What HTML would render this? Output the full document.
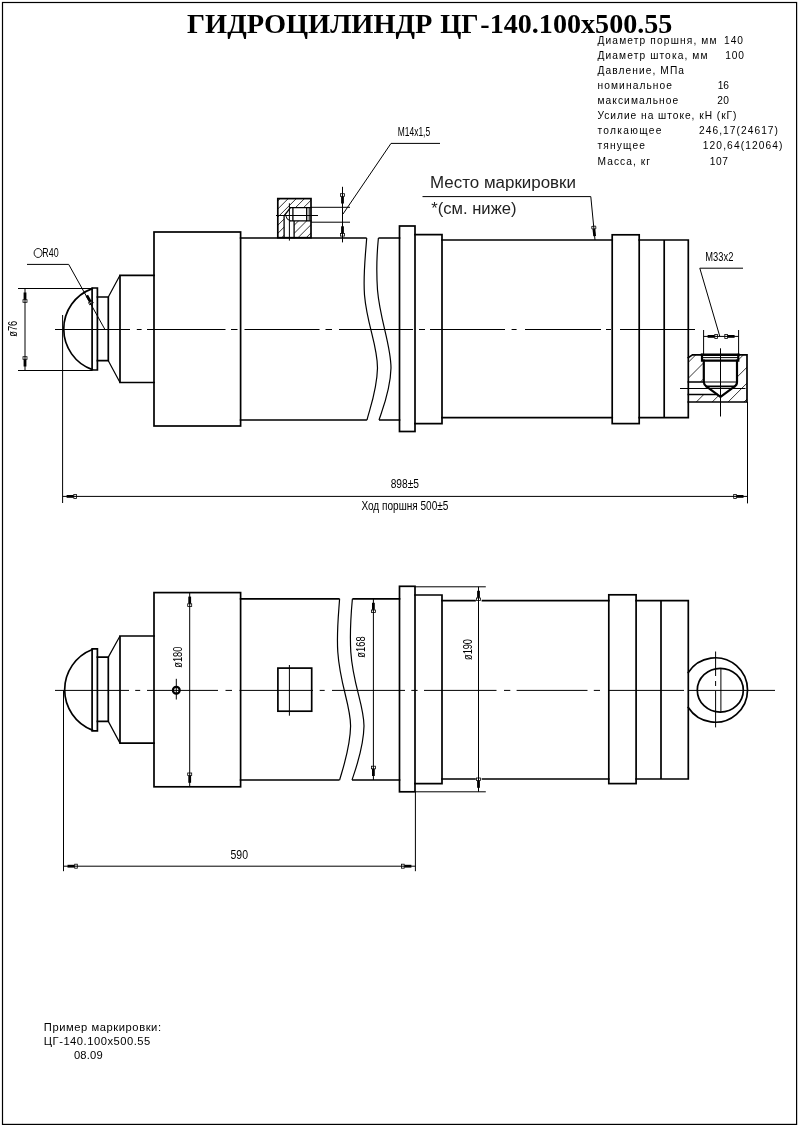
<!DOCTYPE html>
<html lang="ru">
<head>
<meta charset="utf-8">
<title>Гидроцилиндр ЦГ-140.100х500.55</title>
<style>
html,body{margin:0;padding:0;background:#fff;}
body{width:798px;height:1127px;overflow:hidden;}
svg{display:block;will-change:transform;}
.k{stroke:#000;stroke-width:1.7;fill:none;stroke-linecap:square;stroke-linejoin:miter;}
.n{stroke:#000;stroke-width:1;fill:none;}
.c{stroke:#000;stroke-width:1;fill:none;}
.h{stroke:#000;stroke-width:0.8;fill:none;}
.ar{font-family:"Liberation Sans",sans-serif;fill:#000;}
.gs{font-family:"Liberation Sans",sans-serif;fill:#000;font-size:13px;}
.tt{font-family:"Liberation Serif",serif;font-weight:bold;fill:#000;font-size:28px;}
</style>
</head>
<body>
<svg width="798" height="1127" viewBox="0 0 798 1127">
<defs>
  <g id="aw">
    <rect x="4" y="-1.4" width="7" height="2.8" fill="#000"/>
    <rect x="11.2" y="-2" width="2.6" height="4" fill="none" stroke="#000" stroke-width="0.8"/>
  </g>
  <pattern id="hat" width="5.8" height="5.8" patternUnits="userSpaceOnUse" patternTransform="rotate(-45)">
    <line x1="0" y1="2.9" x2="5.8" y2="2.9" stroke="#000" stroke-width="0.8"/>
  </pattern>
  <pattern id="hat2" width="11" height="11" patternUnits="userSpaceOnUse" patternTransform="rotate(-45)">
    <line x1="0" y1="5.5" x2="11" y2="5.5" stroke="#000" stroke-width="0.7"/>
  </pattern>
</defs>
<rect x="0" y="0" width="798" height="1127" fill="#fff"/>
<!-- frame -->
<rect x="2.5" y="2.5" width="794.1" height="1121.9" fill="none" stroke="#000" stroke-width="1.2"/>

<!-- title -->
<text class="tt" y="32.7"><tspan x="187" textLength="245.4" lengthAdjust="spacingAndGlyphs">ГИДРОЦИЛИНДР</tspan> <tspan x="440.2" textLength="38.4" lengthAdjust="spacingAndGlyphs">ЦГ</tspan><tspan x="480.3" textLength="192.1" lengthAdjust="spacingAndGlyphs">-140.100х500.55</tspan></text>

<!-- ============ TOP VIEW ============ -->
<g id="topview">
<!-- hatch fills -->
<clipPath id="cp1"><path d="M277.8,198.6 H311 V207.7 H290.5 L284.1,215.8 V237.7 H277.8 Z M294.1,220.8 H311 V237.7 H294.1 Z"/></clipPath>
<path class="h" clip-path="url(#cp1)" d="M276.0,194.5 L313.0,157.5 M276.0,202.7 L313.0,165.7 M276.0,210.8 L313.0,173.8 M276.0,218.9 L313.0,181.9 M276.0,227.1 L313.0,190.1 M276.0,235.2 L313.0,198.2 M276.0,243.4 L313.0,206.4 M276.0,251.5 L313.0,214.5 M276.0,259.7 L313.0,222.7 M276.0,267.9 L313.0,230.9 M276.0,276.0 L313.0,239.0"/>
<clipPath id="cp2"><path d="M688.3,357.6 L692.5,354.8 H702 V360.7 H703.8 V382 H688.3 Z M738.3,354.8 H747 V402 H688.3 V394.6 H717 L720.5,397 L734.7,386.4 L737,382 V360.7 H738.3 Z"/></clipPath>
<path class="h" clip-path="url(#cp2)" d="M686.0,348.7 L749.0,285.7 M686.0,364.6 L749.0,301.6 M686.0,380.5 L749.0,317.5 M686.0,396.4 L749.0,333.4 M686.0,412.3 L749.0,349.3 M686.0,428.2 L749.0,365.2 M686.0,444.1 L749.0,381.1 M686.0,460.0 L749.0,397.0"/>
<!-- thick outline -->
<path class="k" d="M92.3,288.6 A43,43 0 0 0 92.3,369.6"/>
<path class="k" d="M92.1,288 H97.4 V370 H92.1 Z"/>
<path class="k" d="M97.4,297 H108.3 M97.4,360.7 H108.3 M108.3,297 V360.7"/>
<path style="stroke-width:1.2" class="n" d="M108.3,297 L120,275.3 M108.3,360.7 L120,382.5"/>
<path class="k" d="M154,275.3 H120 V382.5 H154"/>
<rect class="k" x="154" y="232" width="86.6" height="194"/>
<path class="k" d="M240.6,238 H365.8 M240.6,420 H366.1"/>
<path class="k" d="M379.3,238 H399.5 M379.9,420 H399.5"/>
<rect class="k" x="399.5" y="226" width="15.5" height="205.5"/>
<path class="k" d="M415,234.6 H442 V423.6 H415"/>
<path class="k" d="M442,240 H612.2 M442,417.7 H612.2"/>
<rect class="k" x="612.2" y="234.8" width="27" height="188.8"/>
<path class="k" d="M639.2,240 H688.3 V417.7 H639.2 M664.2,240 V417.7"/>
<path class="k" d="M688.3,357.6 L692.5,354.8 H747 V402 H688.3"/>
<!-- port M33 hole -->
<path style="stroke-width:2.6" class="k" d="M702,354.8 H738.3"/>
<path style="stroke-width:2.2" class="k" d="M702,354.8 V360.7 H738.3 V354.8"/>
<path style="stroke-width:2.2" class="k" d="M703.8,360.7 V382 Q704,385 706.3,386.4 L720.5,397 L734.7,386.4 Q737,385 737,382 V360.7"/>
<path style="stroke-width:1.8" class="k" d="M706.3,386.4 H734.7"/>
<path class="n" d="M703.8,382 H737 M703,357.6 H738"/>
<path style="stroke-width:1.5" class="k" d="M688.3,382 H703.8 M688.3,394.6 H717"/>
<!-- port boss M14 -->
<rect class="k" x="277.8" y="198.6" width="33.2" height="39.1"/>
<path style="stroke-width:1.3" class="k" d="M311,207.7 H290.5 L284.1,215.8 V237.7 M311,220.8 H290.5 M294.1,220.8 V237.7 M292.9,207.7 V220.8 M306.7,207.7 V220.8"/>
<path class="n" d="M309.2,207.7 V220.8 M285.8,215.8 Q286.5,220 290.5,220.8"/>
<!-- break lines -->
<path style="stroke-width:1.2" class="n" d="M366.7,238 C365.5,255 363,275 364.5,295 C367,325 377.5,345 377.5,368 C377,390 370,408 367,420"/>
<path style="stroke-width:1.2" class="n" d="M378.4,238 C377.2,250 376,268 377.5,290 C380,320 391,345 391,368 C390.5,390 383,408 379,420"/>
<!-- centre lines -->
<path class="c" d="M55.0,329.5 H130.0 M136.8,329.5 H141.6 M147.0,329.5 H225.5 M231.0,329.5 H237.5 M244.5,329.5 H319.5 M325.5,329.5 H332.0 M339.0,329.5 H413.0 M419.0,329.5 H425.0 M430.0,329.5 H505.0 M511.6,329.5 H516.6 M525.0,329.5 H601.0 M606.0,329.5 H611.0 M620.0,329.5 H695.0"/>
<path class="c" d="M289.4,203.3 V240.6 M276,215.5 H318"/>
<path class="c" d="M720.5,348.3 V416.5 M680,388.5 H745.5"/>
<!-- dim d76 -->
<path class="n" d="M18,288.5 H92 M18,370.5 H92 M25,288.5 V370.5"/>
<use href="#aw" transform="translate(25,288.5) rotate(90)"/>
<use href="#aw" transform="translate(25,370.5) rotate(-90)"/>
<!-- R40 leader -->
<path class="n" d="M27,264.4 H68.7 L104.9,329.4"/>
<use href="#aw" transform="translate(84.9,291.8) rotate(61.3)"/>
<!-- M14 dim -->
<path class="n" d="M311,207.3 H350 M311,222.2 H350 M342.5,186.8 V242.4"/>
<use href="#aw" transform="translate(342.5,207.5) rotate(-90)"/>
<use href="#aw" transform="translate(342.5,222.3) rotate(90)"/>
<path class="n" d="M343,214 L391,143.4 H440"/>
<!-- marking leader -->
<path class="n" d="M422.5,196.6 H590.8 L595,240"/>
<use href="#aw" transform="translate(595,240) rotate(-95.5)"/>
<!-- M33 dim -->
<path class="n" d="M703.6,330 V354.8 M738.6,330 V354.8 M703.6,336.4 H738.6"/>
<use href="#aw" transform="translate(703.6,336.4)"/>
<use href="#aw" transform="translate(738.6,336.4) rotate(180)"/>
<path class="n" d="M743,268.2 H699.8 L719.8,336.4"/>
<!-- 898 dim -->
<path class="n" d="M62.6,315 V503 M747.5,402 V503.4 M62.6,496.4 H747.5"/>
<use href="#aw" transform="translate(62.6,496.4)"/>
<use href="#aw" transform="translate(747.5,496.4) rotate(180)"/>
</g>

<!-- ============ BOTTOM VIEW ============ -->
<g id="bottomview">
<path class="k" d="M92.3,649.6 A43,43 0 0 1 92.3,730.2" transform="translate(0,0)" style="display:none"/>
<path class="k" d="M92.3,649.5 A43.2,43.2 0 0 0 92.3,730.1"/>
<path class="k" d="M92.1,648.8 H97.4 V730.8 H92.1 Z"/>
<path class="k" d="M97.4,657.1 H108.3 M97.4,721.4 H108.3 M108.3,657.1 V721.4"/>
<path style="stroke-width:1.2" class="n" d="M108.3,657.1 L120,636 M108.3,721.4 L120,743.1"/>
<path class="k" d="M154,636 H120 V743.1 H154"/>
<rect class="k" x="154" y="592.6" width="86.6" height="194.2"/>
<path class="k" d="M240.6,598.8 H338.7 M240.6,780 H338.7"/>
<path class="k" d="M353.3,598.8 H399.5 M352.9,780 H399.5"/>
<rect class="k" x="399.5" y="586.3" width="15.5" height="205.5"/>
<path class="k" d="M415,595 H442 V783.6 H415"/>
<path class="k" d="M442,600.7 H475 M482.5,600.7 H608.8 M442,779 H475 M482.5,779 H608.8"/>
<rect class="k" x="608.8" y="594.8" width="27.3" height="188.8"/>
<path class="k" d="M636.1,600.7 H688.3 V779 H636.1 M661,600.7 V779"/>
<!-- eye -->
<path class="k" d="M688.3,672.5 A32.2,32.2 0 1 1 688.3,707.5"/>
<ellipse class="k" cx="720.3" cy="690.2" rx="23" ry="21.9"/>
<path class="n" d="M720.9,668.3 V712"/>
<path class="c" d="M715.6,651.5 V676 M715.6,681 V686 M715.6,691 V727.4"/>
<!-- port square -->
<rect class="k" x="277.9" y="668.1" width="33.8" height="43.1"/>
<path class="c" d="M289.4,665 V715.7"/>
<!-- break lines -->
<path style="stroke-width:1.2" class="n" d="M339.6,598.8 C338.5,615 336.5,632 337.8,652 C340,685 350.6,705 350.6,726 C350.2,748 343,768 339.6,780"/>
<path style="stroke-width:1.2" class="n" d="M352.4,598.8 C351.2,612 349.5,630 350.8,652 C353,685 364,705 364,726 C363.6,748 356,768 352,780"/>
<!-- centre line -->
<path class="c" d="M55.0,690.4 H129.0 M135.2,690.4 H140.2 M147.0,690.4 H218.0 M225.5,690.4 H232.0 M239.5,690.4 H313.0 M319.7,690.4 H324.7 M332.0,690.4 H405.0 M411.3,690.4 H417.6 M424.0,690.4 H496.5 M504.0,690.4 H510.3 M516.6,690.4 H587.5 M593.8,690.4 H600.0 M608.8,690.4 H684.0 M689.0,690.4 H775.0"/>
<!-- small symbol -->
<circle cx="176.3" cy="690.2" r="3.4" fill="none" stroke="#000" stroke-width="2.2"/>
<path class="n" d="M176.3,678.8 V699.5"/>
<!-- d180 -->
<path class="n" d="M189.7,592.6 V786.8"/>
<use href="#aw" transform="translate(189.7,592.6) rotate(90)"/>
<use href="#aw" transform="translate(189.7,786.8) rotate(-90)"/>
<!-- d168 -->
<path class="n" d="M373.4,598.8 V780"/>
<use href="#aw" transform="translate(373.4,598.8) rotate(90)"/>
<use href="#aw" transform="translate(373.4,780) rotate(-90)"/>
<!-- d190 -->
<path class="n" d="M415,586.8 H485.8 M415,791.8 H485.8 M478.5,586.8 V791.8"/>
<use href="#aw" transform="translate(478.5,586.8) rotate(90)"/>
<use href="#aw" transform="translate(478.5,791.8) rotate(-90)"/>
<!-- 590 -->
<path class="n" d="M63.5,690.4 V871.2 M415.4,791.8 V871.2 M63.5,866.2 H415.4"/>
<use href="#aw" transform="translate(63.5,866.2)"/>
<use href="#aw" transform="translate(415.4,866.2) rotate(180)"/>
</g>

<!-- spec table -->
<g class="ar" font-size="10.2">
<text x="597.5" y="43.8" textLength="119" lengthAdjust="spacing">Диаметр поршня, мм</text>
<text x="724" y="43.8" textLength="19" lengthAdjust="spacing">140</text>
<text x="597.5" y="58.8" textLength="110" lengthAdjust="spacing">Диаметр штока, мм</text>
<text x="725.3" y="58.8" textLength="18.5" lengthAdjust="spacing">100</text>
<text x="597.5" y="73.9" textLength="86.5" lengthAdjust="spacing">Давление, МПа</text>
<text x="597.5" y="88.9" textLength="74.5" lengthAdjust="spacing">номинальное</text>
<text x="717.8" y="88.9" textLength="11" lengthAdjust="spacing">16</text>
<text x="597.5" y="104.3" textLength="80.7" lengthAdjust="spacing">максимальное</text>
<text x="717.3" y="104.3" textLength="11.7" lengthAdjust="spacing">20</text>
<text x="597.5" y="118.9" textLength="139" lengthAdjust="spacing">Усилие на штоке, кН (кГ)</text>
<text x="597.5" y="133.9" textLength="64" lengthAdjust="spacing">толкающее</text>
<text x="699" y="133.9" textLength="79" lengthAdjust="spacing">246,17(24617)</text>
<text x="597.5" y="149.3" textLength="47.5" lengthAdjust="spacing">тянущее</text>
<text x="702.8" y="149.3" textLength="79.7" lengthAdjust="spacing">120,64(12064)</text>
<text x="597.5" y="164.6" textLength="52.5" lengthAdjust="spacing">Масса, кг</text>
<text x="709.8" y="164.6" textLength="18" lengthAdjust="spacing">107</text>
</g>
<!-- marking example -->
<g class="ar" font-size="11.2">
<text x="43.8" y="1030.6" textLength="117.2" lengthAdjust="spacing">Пример маркировки:</text>
<text x="43.8" y="1045" textLength="106.5" lengthAdjust="spacing">ЦГ-140.100х500.55</text>
<text x="73.9" y="1059.4" textLength="28.8" lengthAdjust="spacing">08.09</text>
</g>
<!-- marking place -->
<g class="ar" font-size="15.8" style="fill:#222">
<text x="430" y="188" textLength="146" lengthAdjust="spacingAndGlyphs">Место маркировки</text>
<text x="431.3" y="213.9" textLength="85.2" lengthAdjust="spacingAndGlyphs">*(см. ниже)</text>
</g>
<!-- cad-font labels -->
<g class="gs">
<text x="397.8" y="135.9" textLength="32.3" lengthAdjust="spacingAndGlyphs">M14x1,5</text>
<text x="705.3" y="260.7" textLength="28.1" lengthAdjust="spacingAndGlyphs">M33x2</text>
<text x="390.7" y="488" textLength="28.3" lengthAdjust="spacingAndGlyphs">898±5</text>
<text x="361.4" y="510" textLength="87" lengthAdjust="spacingAndGlyphs">Ход поршня 500±5</text>
<text x="230.5" y="858.7" textLength="17.5" lengthAdjust="spacingAndGlyphs">590</text>
</g>
<!-- rotated / misc labels -->
<g class="gs">
<text transform="translate(16.5,336.8) rotate(-90)" textLength="16.1" lengthAdjust="spacingAndGlyphs">ø76</text>
<ellipse cx="38.1" cy="253" rx="4" ry="4.5" fill="none" stroke="#000" stroke-width="0.9"/>
<text x="42.3" y="256.9" textLength="16.3" lengthAdjust="spacingAndGlyphs">R40</text>
</g>
<g class="ar" font-size="12.6">
<text transform="translate(182,667.8) rotate(-90)" textLength="21.3" lengthAdjust="spacingAndGlyphs">ø180</text>
<text transform="translate(365.4,657.7) rotate(-90)" textLength="21.3" lengthAdjust="spacingAndGlyphs">ø168</text>
<text transform="translate(471.5,660) rotate(-90)" textLength="21" lengthAdjust="spacingAndGlyphs">ø190</text>
</g>
<!-- TEXTS -->
</svg>
</body>
</html>
